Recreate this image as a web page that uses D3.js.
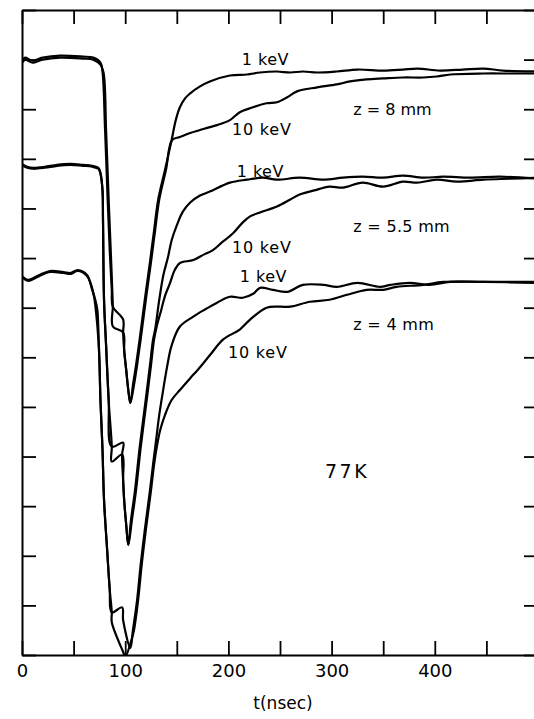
<!DOCTYPE html>
<html>
<head>
<meta charset="utf-8">
<script src="https://cdn.jsdelivr.net/npm/d3@7"></script>
<style>
  html, body { margin: 0; padding: 0; background: #fff; }
  svg { display: block; }
  text { font-family: "DejaVu Sans", sans-serif; fill: #000; }
</style>
</head>
<body>
<svg id="chart" width="534" height="719"></svg>
<script>
// Axis ticks: time in ns, amplitude in arbitrary units
const timeTicks = d3.range(0, 501, 50);
const timeLabels = [0, 100, 200, 300, 400];
const ampTicks = d3.range(0, 651, 50);

// Pulse shapes [t (ns), amplitude] at 77 K
const z8_1keV = [[1,600],[3,602],[10,599],[20,602],[37,604],[59,603],[69,602],[76,597],[78,588],[80.5,529],[83,459],[85,408],[87,368],[88,351],[98,338],[98,325],[99,307],[101,287],[103,267],[105,254],[107.5,272],[110.5,292],[114,318],[119,358],[124,396],[128,428],[132,459],[138.6,489],[145,519],[149,539],[153,552],[158,561],[163,566],[172.5,573],[182,578],[201.5,584],[218,585],[230.6,587],[247,588],[260,587],[272,588],[286,587],[305,588],[325,590],[350,589],[369,590],[383,591],[405,589],[427,590],[447,591],[466,589],[500,588]];
const z8_10keV = [[1,598],[3,600],[10,597],[20,600],[37,602],[59,601],[69,600],[76,595],[79,587],[81.5,528],[84,458],[86,407],[87.5,367],[88,351],[88,331],[98,325],[99,307],[101,287],[103,267],[105,254],[108.5,272],[111.5,292],[115,318],[120,358],[125,396],[129,428],[133,459],[139.5,489],[145.5,519],[153,522],[163,526],[172.5,529],[182,532],[189,534],[201.5,539],[211,547],[221,551],[237,556],[247,557],[257,562],[266.5,568],[286,572],[305,575],[318,578],[334,580],[350,581],[369,582],[389,582],[402,583],[415,585],[447,586],[473,586],[500,586]];

const z55_1keV = [[1,494],[5,492],[11,491],[22,492],[34,494],[47,495],[59,494],[68,493],[74,491],[76,486],[78,469],[78.5,438],[79.5,358],[81.5,312],[84,257],[87,210],[98,214],[97,202],[98,176],[99,156],[101,131],[103,111],[105.6,136],[109.5,166],[114,209],[119,250],[124,292],[127,318],[129,328],[133,358],[137,383],[141.5,401],[145,418],[150,433],[156,447],[163,456],[172.5,463],[182,467],[201.5,476],[218,479],[233.5,481],[247,479],[269,481],[292,479],[311,481],[330,482],[350,481],[369,483],[389,481],[408,482],[434,481],[463,482],[500,480]];
const z55_10keV = [[1,493],[5,491],[11,490],[22,491],[34,493],[47,494],[59,493],[68,492],[74,490],[76,485],[78,468],[78.5,437],[79.5,357],[81.5,311],[84,256],[87,210],[87,195],[97,202],[98,176],[99,156],[101,131],[103,111],[106.5,136],[110.5,166],[115,209],[120,250],[125,292],[128,318],[131,333],[135,348],[138.6,362],[143.5,375],[148,388],[153,395],[166,398],[177,404],[185,408],[194,416],[204.5,425],[214,436],[221,442],[230.6,446],[247,452],[260,459],[269,464],[286,469],[298,472],[311,471],[330,476],[350,472],[369,477],[383,476],[402,479],[421.5,477],[447,479],[473,480],[500,481]];

const z4_1keV = [[1,381],[6,378],[17,383],[27,387],[40,386],[47,385],[54,388],[63,383],[68,368],[71,358],[73,348],[74,328],[75,297],[76,257],[78,207],[79.5,156],[82.5,106],[85,66],[87,43],[97,48],[98,35],[105,7],[107.5,25],[111.5,55],[115,91],[119,126],[124,166],[127,192],[130,217],[133,242],[136,262],[140.5,290],[145,312],[153,331],[166,341],[177,348],[189,355],[201.5,361],[214,360],[224,364],[230.6,370],[243,368],[257,366],[272,373],[292,373],[305,371],[325,375],[347,371],[357,373],[376,375],[395,373],[415,376],[447,376],[500,376]];
const z4_10keV = [[1,380],[6,377],[17,382],[27,386],[40,385],[47,384],[54,387],[63,382],[67,373],[70,360],[72,343],[74,318],[75,297],[76,257],[78,207],[79.5,156],[82.5,106],[85,66],[87,43],[87,33],[98,3],[100,-2],[106,15],[108.5,25],[112.5,55],[116,91],[120,126],[125,166],[128,192],[131,212],[134,227],[138.6,242],[145,257],[153,267],[163,279],[170,287],[182,302],[195,318],[211,328],[221,338],[237,350],[250,351],[260,351],[279,356],[298,358],[315,363],[334,368],[350,368],[363,371],[389,373],[408,376],[447,376],[500,375]];

const curves = [z8_1keV, z8_10keV, z55_1keV, z55_10keV, z4_1keV, z4_10keV];

// Curve annotations, anchored in data space (start of text, baseline)
const notes = [
  { text: "1 keV",      t: 213,   v: 595, size: 16, ls: 0.5 },
  { text: "10 keV",     t: 203.5, v: 524, size: 16, ls: 0.8 },
  { text: "z = 8 mm",   t: 321,   v: 544, size: 16, ls: 0 },
  { text: "1 keV",      t: 208,   v: 482, size: 16, ls: 0.5 },
  { text: "z = 5.5 mm", t: 321,   v: 426, size: 16, ls: 0.3 },
  { text: "10 keV",     t: 203.5, v: 405, size: 16, ls: 0.8 },
  { text: "1 keV",      t: 211,   v: 376, size: 16, ls: 0.5 },
  { text: "z = 4 mm",   t: 321,   v: 328, size: 16, ls: 0.3 },
  { text: "10 keV",     t: 199.6, v: 299, size: 16, ls: 0.8 },
  { text: "77K",        t: 293.6, v: 178, size: 19, ls: 2.5 }
];

const svg = d3.select("#chart");
const plotLeft = 22, plotRight = 538, plotTop = 10, plotBottom = 655;

const x = d3.scaleLinear().domain([0, 500]).range([plotLeft, plotRight]);
const y = d3.scaleLinear().domain([0, 650]).range([plotBottom, plotTop]);

svg.append("rect").attr("width", 534).attr("height", 719).attr("fill", "#fff");

svg.append("defs").append("clipPath").attr("id", "plotClip")
  .append("rect")
  .attr("x", plotLeft).attr("y", plotTop)
  .attr("width", plotRight - plotLeft).attr("height", plotBottom - plotTop);

// Frame axes with inward ticks
function styleAxis(g) {
  g.select(".domain").attr("stroke", "#000").attr("stroke-width", 2);
  g.selectAll(".tick line").attr("stroke", "#000").attr("stroke-width", 1.8);
}

svg.append("g")
  .attr("transform", `translate(0,${plotBottom})`)
  .call(d3.axisBottom(x).tickValues(timeTicks).tickSizeInner(-14).tickSizeOuter(0).tickPadding(9)
    .tickFormat(d => timeLabels.includes(d) ? String(d) : ""))
  .call(styleAxis)
  .call(g => g.selectAll(".tick text")
    .attr("font-family", "DejaVu Sans, sans-serif")
    .attr("font-size", 18).attr("fill", "#000"));

svg.append("g")
  .attr("transform", `translate(0,${plotTop})`)
  .call(d3.axisTop(x).tickValues(timeTicks).tickSizeInner(-14).tickSizeOuter(0).tickFormat(""))
  .call(styleAxis);

svg.append("g")
  .attr("transform", `translate(${plotLeft},0)`)
  .call(d3.axisLeft(y).tickValues(ampTicks).tickSizeInner(-14).tickSizeOuter(0).tickFormat(""))
  .call(styleAxis);

svg.append("g")
  .attr("transform", `translate(${plotRight},0)`)
  .call(d3.axisRight(y).tickValues(ampTicks).tickSizeInner(-14).tickSizeOuter(0).tickFormat(""))
  .call(styleAxis);

// Pulse traces, smoothed through the read points
const line = d3.line().x(d => x(d[0])).y(d => y(d[1])).curve(d3.curveCatmullRom.alpha(0.5));

svg.append("g").attr("clip-path", "url(#plotClip)")
  .selectAll("path")
  .data(curves)
  .join("path")
  .attr("d", line)
  .attr("fill", "none")
  .attr("stroke", "#000")
  .attr("stroke-width", 2.2)
  .attr("stroke-linejoin", "round")
  .attr("stroke-linecap", "round");

// Annotations
svg.append("g").selectAll("text")
  .data(notes)
  .join("text")
  .attr("x", d => x(d.t))
  .attr("y", d => y(d.v))
  .attr("font-size", d => d.size)
  .attr("letter-spacing", d => d.ls)
  .text(d => d.text);

// Time axis title
svg.append("text")
  .attr("x", 283).attr("y", 709)
  .attr("text-anchor", "middle")
  .attr("font-size", 17)
  .text("t(nsec)");
</script>
</body>
</html>
